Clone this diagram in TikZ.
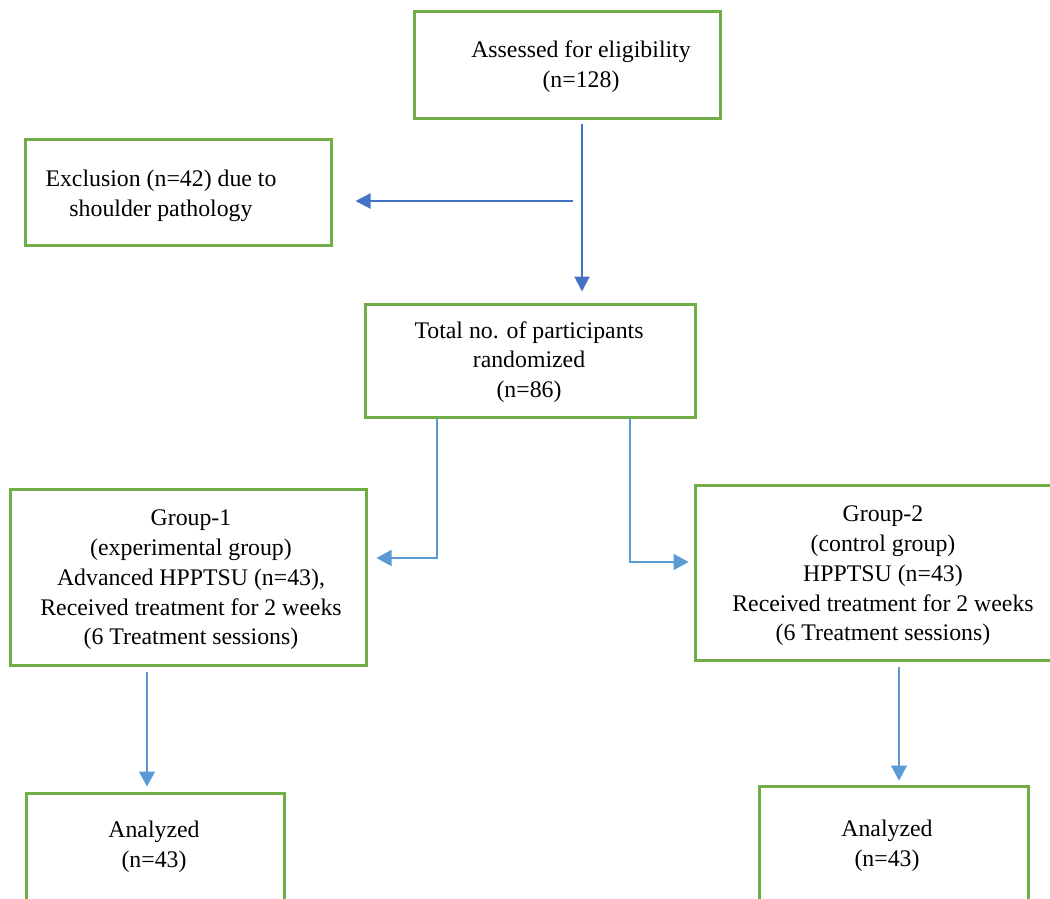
\documentclass[tikz,border=0pt]{standalone}
\usepackage{fontspec}
\setmainfont{Liberation Serif}
\usetikzlibrary{arrows.meta}
\definecolor{boxgreen}{HTML}{70AD47}
\definecolor{darkblue}{HTML}{4472C4}
\definecolor{lightblue}{HTML}{5B9BD5}
\newcommand\diagfont{\fontsize{23.8}{29.8}\selectfont}
\tikzset{
  box/.style={draw=boxgreen, line width=3pt, inner sep=0pt},
  txt/.style={align=center, font=\diagfont, inner sep=0pt, text=black},
  arrdark/.style={draw=darkblue, line width=2.1pt, -{Triangle[length=15pt,width=15pt]}},
  arrlight/.style={draw=lightblue, line width=1.5pt, -{Triangle[length=15pt,width=16pt]}}
}
\begin{document}
\begin{tikzpicture}[x=1pt,y=-1pt]
\fill[white] (0,0) rectangle (1050,899);
\useasboundingbox (0,0) rectangle (1050,899);
% boxes
\node[box, minimum width=306pt, minimum height=106pt] (top) at (567,65) {};
\node[box, minimum width=306pt, minimum height=106pt] (excl) at (178,192) {};
\node[box, minimum width=330pt, minimum height=113pt] (rand) at (530,360.5) {};
\node[box, minimum width=356pt, minimum height=176pt] (g1) at (188,577) {};
\node[box, minimum width=370pt, minimum height=175pt] (g2) at (880,572.5) {};
\node[box, minimum width=258pt, minimum height=127pt] (a1) at (155,856.5) {};
\node[box, minimum width=269pt, minimum height=134pt] (a2) at (893.5,853) {};
% texts
\node[txt] (topt) at (581,67) {Assessed for eligibility\\(n=128)};
\node[txt] (exclt) at (161,196) {Exclusion (n=42) due to\\shoulder pathology};
\node[txt] (randt) at (529,362) {Total no. of participants\\randomized\\(n=86)};
\node[txt] (g1t) at (191,580) {Group-1\\(experimental group)\\Advanced HPPTSU (n=43),\\Received treatment for 2 weeks\\(6 Treatment sessions)};
\node[txt] (g2t) at (883,576) {Group-2\\(control group)\\HPPTSU (n=43)\\Received treatment for 2 weeks\\(6 Treatment sessions)};
\node[txt] (a1t) at (154,847) {Analyzed\\(n=43)};
\node[txt] (a2t) at (887,846) {Analyzed\\(n=43)};
% connectors
\draw[arrdark] ([xshift=15pt,yshift=-4pt]top.south) -- ([xshift=52pt,yshift=11pt]rand.north);
\coordinate (split) at (573,201);
\draw[arrdark] (split) -- ([xshift=23pt,yshift=-9pt]excl.east);
\draw[arrlight] ([xshift=-93pt]rand.south) |- ([xshift=9pt,yshift=19pt]g1.east);
\draw[arrlight] ([xshift=100pt]rand.south) |- ([xshift=-5pt,yshift=10.5pt]g2.west);
\draw[arrlight] ([xshift=-41pt,yshift=-5pt]g1.south) -- ([xshift=-8pt,yshift=5pt]a1.north);
\draw[arrlight] ([xshift=19pt,yshift=-5pt]g2.south) -- ([xshift=5.5pt,yshift=4pt]a2.north);
\end{tikzpicture}
\end{document}
